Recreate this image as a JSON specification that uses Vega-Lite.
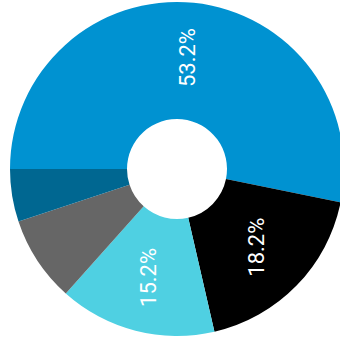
{
  "$schema": "https://vega.github.io/schema/vega-lite/v6.json",
  "autosize": "none",
  "width": 354,
  "height": 338,
  "padding": 0,
  "background": "white",
  "data": {
    "values": [
      {"order": 1, "category": "A", "value": 53.2, "label": "53.2%"},
      {"order": 2, "category": "B", "value": 18.2, "label": "18.2%"},
      {"order": 3, "category": "C", "value": 15.2, "label": "15.2%"},
      {"order": 4, "category": "D", "value": 8.3, "label": ""},
      {"order": 5, "category": "E", "value": 5.1, "label": ""}
    ]
  },
  "encoding": {
    "theta": {"field": "value", "type": "quantitative", "stack": true, "scale": {"range": [-1.5708, 4.7124]}},
    "order": {"field": "order", "type": "quantitative"}
  },
  "layer": [
    {
      "mark": {"type": "arc", "outerRadius": 167, "innerRadius": 50},
      "encoding": {
        "color": {
          "field": "category",
          "type": "nominal",
          "legend": null,
          "scale": {"domain": ["A", "B", "C", "D", "E"], "range": ["#0092d1", "#000000", "#4fd0e2", "#666666", "#006791"]}
        }
      }
    },
    {
      "mark": {"type": "text", "radius": 112, "angle": 270, "align": "center", "baseline": "middle", "font": "Roboto", "fontSize": 22, "color": "white"},
      "encoding": {"text": {"field": "label"}}
    }
  ]
}
